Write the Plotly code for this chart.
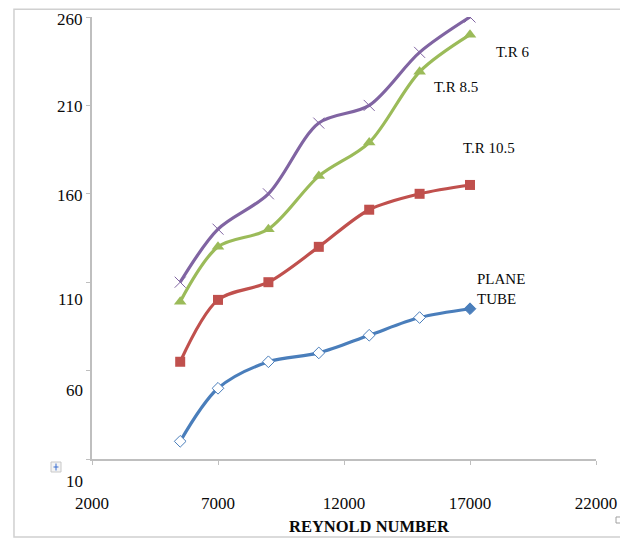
import plotly.graph_objects as go

reynolds = [5500, 7000, 9000, 11000, 13000, 15000, 17000]
plane_tube = [20, 50, 65, 70, 80, 90, 95]
tr_10_5 = [65, 100, 110, 130, 151, 160, 165]
tr_8_5 = [99, 130, 140, 170, 189, 229, 250]
tr_6 = [110, 140, 160, 200, 210, 240, 260]

x_ticks = [2000, 7000, 12000, 17000, 22000]
y_ticks = [10, 60, 110, 160, 210, 260]
x_title = "REYNOLD NUMBER"

BLUE = "#4A7EBB"
RED = "#C0504D"
GREEN = "#9BBB59"
PURPLE = "#8064A2"
FONT = "Liberation Serif"
TEXT = "#0A0A0A"

fig = go.Figure()

fig.add_trace(go.Scatter(
    x=reynolds, y=plane_tube, mode="lines+markers",
    line=dict(color=BLUE, width=3.2, shape="spline", smoothing=0.9),
    marker=dict(symbol="diamond", size=9,
                color=["white"] * (len(reynolds) - 1) + [BLUE],
                line=dict(color=BLUE, width=1)),
    name="PLANE TUBE"))

fig.add_trace(go.Scatter(
    x=reynolds, y=tr_10_5, mode="lines+markers",
    line=dict(color=RED, width=3.2, shape="spline", smoothing=0.9),
    marker=dict(symbol="square", size=10, color=RED),
    name="T.R 10.5"))

fig.add_trace(go.Scatter(
    x=reynolds, y=tr_8_5, mode="lines+markers",
    line=dict(color=GREEN, width=3.2, shape="spline", smoothing=0.9),
    marker=dict(symbol="triangle-up", size=11, color=GREEN),
    name="T.R 8.5"))

fig.add_trace(go.Scatter(
    x=reynolds, y=tr_6, mode="lines+markers",
    line=dict(color=PURPLE, width=3.2, shape="spline", smoothing=0.9),
    marker=dict(symbol="x-thin", size=11, color=PURPLE,
                line=dict(color=PURPLE, width=1)),
    name="T.R 6"))

annotations = []
# y tick labels (the lower ones sit slightly below their tick marks in the reference)
y_label_shift = {10: -22, 60: -20, 110: -17, 160: -2, 210: -1, 260: -2}
for v in y_ticks:
    annotations.append(dict(
        x=0, xref="paper", y=v, yref="y", text=str(v), showarrow=False,
        xanchor="right", yanchor="middle", xshift=-7, yshift=y_label_shift[v],
        font=dict(family=FONT, size=17, color=TEXT)))

# series labels, anchored to the last point of each series
label_style = dict(showarrow=False, font=dict(family=FONT, size=15, color=TEXT))
annotations.append(dict(x=reynolds[-1], y=tr_6[-1], text="T.R 6",
                        xanchor="center", yanchor="middle", xshift=43, yshift=-35, **label_style))
annotations.append(dict(x=reynolds[-1], y=tr_8_5[-1], text="T.R 8.5",
                        xanchor="center", yanchor="middle", xshift=-14, yshift=-52, **label_style))
annotations.append(dict(x=reynolds[-1], y=tr_10_5[-1], text="T.R 10.5",
                        xanchor="center", yanchor="middle", xshift=19, yshift=37, **label_style))
annotations.append(dict(x=reynolds[-1], y=plane_tube[-1], text="PLANE<br>TUBE", align="left",
                        xanchor="left", yanchor="middle", xshift=5, yshift=20, **label_style))

# x axis title
annotations.append(dict(x=0.55, xref="paper", y=-0.152, yref="paper", text="<b>" + x_title + "</b>",
                        showarrow=False, xanchor="center", yanchor="middle",
                        font=dict(family=FONT, size=16.5, color=TEXT)))

shapes = [
    # chart outer border
    dict(type="rect", xref="paper", yref="paper", x0=-0.1548, x1=1.0516, y0=-0.1765, y1=1.0176,
         line=dict(color="#D0D0D0", width=1.5), layer="below"),
    # move handle icon
    dict(type="rect", xref="paper", yref="paper", x0=-0.0813, x1=-0.0615, y0=-0.0294, y1=-0.0068,
         line=dict(color="#C8C8C8", width=1), fillcolor="#F4F4F4"),
    dict(type="line", xref="paper", yref="paper", x0=-0.0764, x1=-0.0665, y0=-0.0181, y1=-0.0181,
         line=dict(color="#3B6FD0", width=1)),
    dict(type="line", xref="paper", yref="paper", x0=-0.0714, x1=-0.0714, y0=-0.0260, y1=-0.0102,
         line=dict(color="#3B6FD0", width=1)),
    # resize handle
    dict(type="rect", xref="paper", yref="paper", x0=1.0397, x1=1.0516, y0=-0.1448, y1=-0.1312,
         line=dict(color="#A0A0A0", width=1), fillcolor="white"),
]

fig.update_layout(
    width=620, height=531,
    margin=dict(l=84, r=32, t=9, b=80),
    paper_bgcolor="white", plot_bgcolor="white",
    showlegend=False,
    annotations=annotations,
    shapes=shapes,
    xaxis=dict(range=[x_ticks[0], x_ticks[-1]], tickmode="array", tickvals=x_ticks,
               ticktext=[str(v) for v in x_ticks],
               showgrid=False, zeroline=False, showline=True, linecolor="#BFBFBF", linewidth=1.5,
               ticks="outside", ticklen=4, tickcolor="#BFBFBF", tickwidth=1,
               ticklabelstandoff=24,
               tickfont=dict(family=FONT, size=17, color=TEXT)),
    yaxis=dict(range=[y_ticks[0], y_ticks[-1]], tickmode="array", tickvals=y_ticks,
               showticklabels=False,
               showgrid=False, zeroline=False, showline=True, linecolor="#BFBFBF", linewidth=1.5,
               ticks="outside", ticklen=4, tickcolor="#BFBFBF", tickwidth=1),
)

fig.write_html("out.html")
